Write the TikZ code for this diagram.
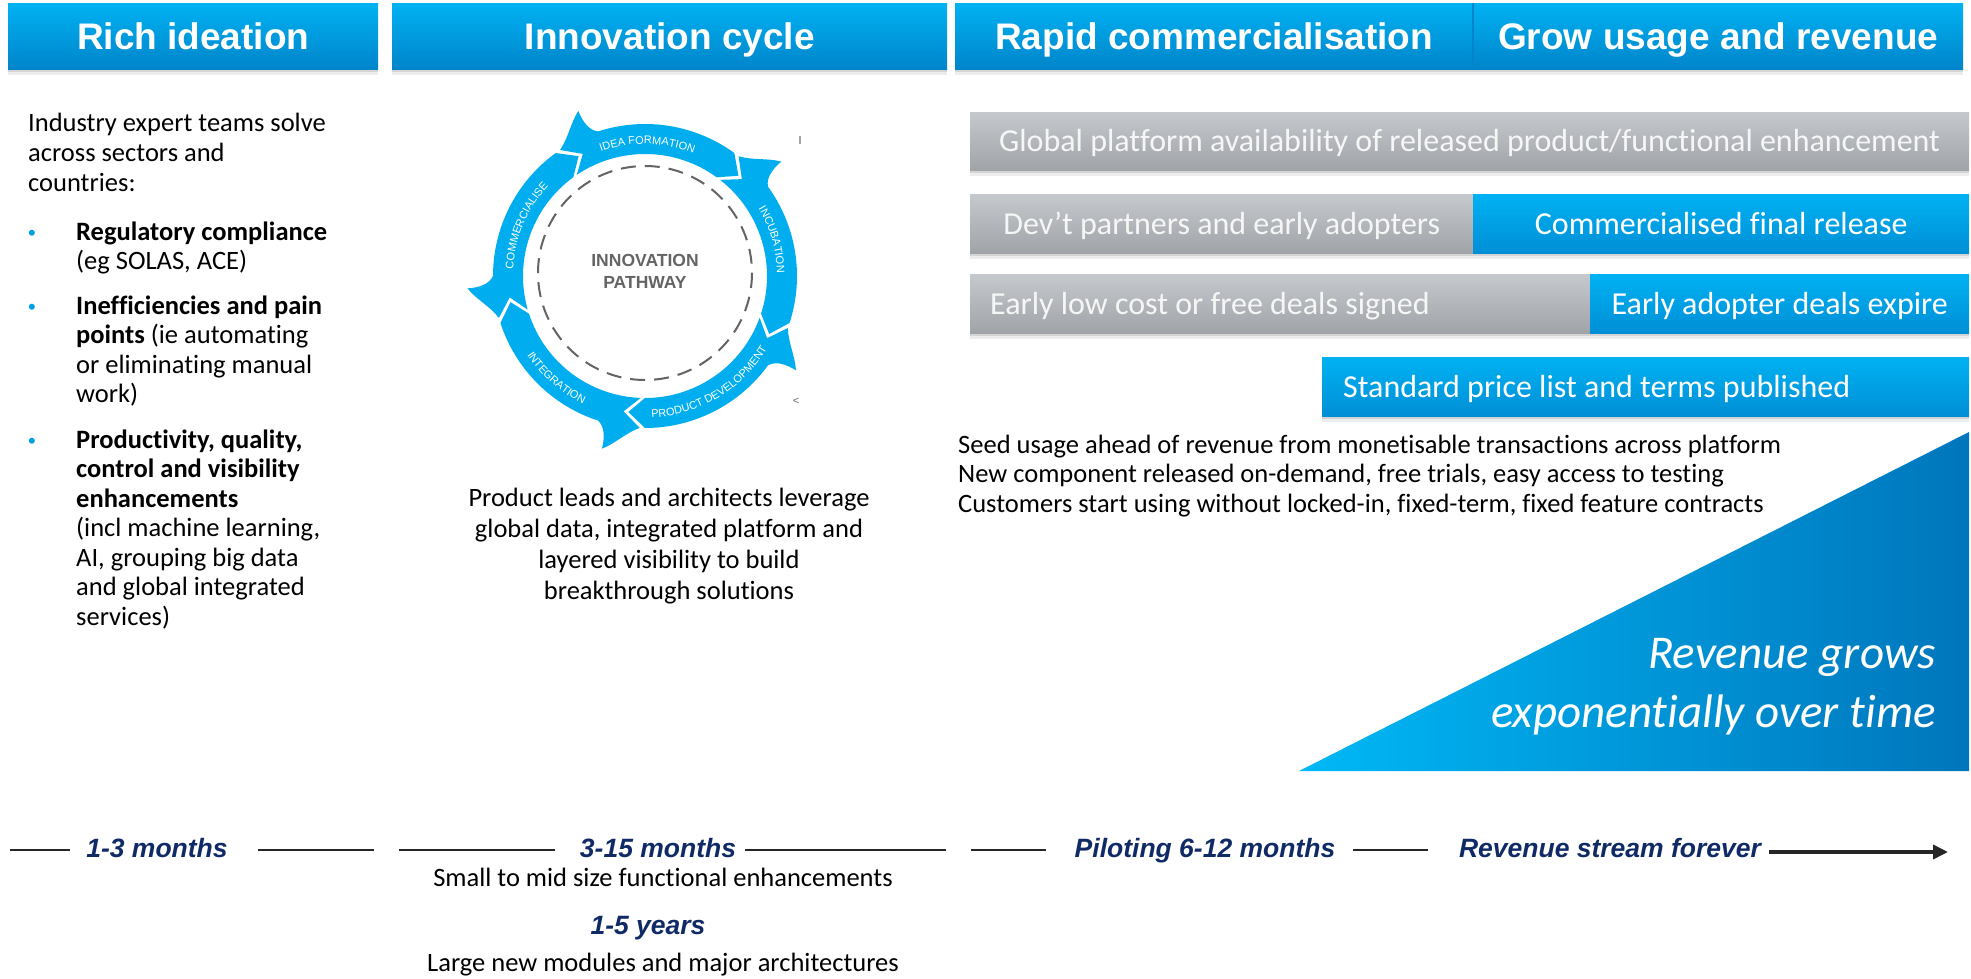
\documentclass[tikz,border=0pt]{standalone}
\usepackage{fontspec}
\setmainfont{Carlito}[Ligatures=NoCommon]
\newfontfamily\sansfam{Liberation Sans}
\usetikzlibrary{arrows.meta,decorations.text,shadows}

\definecolor{hdrtop}{RGB}{0,178,242}
\definecolor{hdrbot}{RGB}{0,132,202}
\definecolor{graytop}{RGB}{197,201,205}
\definecolor{graybot}{RGB}{160,164,168}
\definecolor{graytext}{RGB}{246,246,246}
\definecolor{bluetop}{RGB}{0,178,242}
\definecolor{bluebot}{RGB}{0,142,214}
\definecolor{ringblue}{RGB}{0,174,239}
\definecolor{navy}{RGB}{16,42,102}
\definecolor{pathgray}{RGB}{100,100,100}
\definecolor{bulletblue}{RGB}{0,160,228}
\definecolor{trileft}{RGB}{0,184,246}
\definecolor{triright}{RGB}{0,118,188}

\newcommand\ringfont{\sansfam\fontsize{11}{12}\selectfont\color{white}}

\begin{document}
\begin{tikzpicture}[x=1pt,y=-1pt,
  softshadow/.style={
    general shadow={shadow yshift=-3pt, fill=black, opacity=0.10},
    general shadow={shadow yshift=-6pt, fill=black, opacity=0.07}},
  hdr/.style={rectangle, anchor=north west, inner sep=0pt, minimum height=66pt,
    top color=hdrtop, bottom color=hdrbot, text=white,
    font=\sansfam\bfseries\fontsize{37}{40}\selectfont,
    text height=26.5pt, text depth=0pt, softshadow},
  bar/.style={rectangle, anchor=north west, inner sep=0pt, minimum height=59pt,
    font=\fontsize{32}{36}\selectfont, text height=20.6pt, text depth=0pt, softshadow},
  graybar/.style={bar, top color=graytop, bottom color=graybot, text=graytext},
  bluebar/.style={bar, top color=bluetop, bottom color=bluebot, text=white},
  body/.style={anchor=base west, inner sep=0pt, font=\fontsize{26.5}{29.5}\selectfont},
  bodyc/.style={body, anchor=base},
  bul/.style={anchor=base, inner sep=0pt, text=bulletblue, font=\sansfam\fontsize{22}{26}\selectfont},
  tl/.style={anchor=base, inner sep=0pt, text=navy,
    font=\sansfam\bfseries\itshape\fontsize{26.5}{30}\selectfont},
  tline/.style={line width=2pt, black!85},
  ringtext/.style={decorate, decoration={text along path, text align=center, text={#1}}},
]
% page and background
\fill[white] (0,0) rectangle (1971,979);
\useasboundingbox (0,0) rectangle (1971,979);

% ---------- column headers ----------
\node[hdr, minimum width=370pt] (h1) at (8,3) {Rich ideation};
\node[hdr, minimum width=555pt] (h2) at (392,3) {Innovation cycle};
\node[hdr, minimum width=518pt] (h3) at (955,3) {Rapid commercialisation};
\node[hdr, minimum width=490pt] (h4) at (1473,3) {Grow usage and revenue};
\draw[hdrbot, line width=1.5pt] (h4.north west) -- (h4.south west);

% ---------- rich ideation column ----------
\foreach \yy/\txt [count=\i] in {132/{Industry expert teams solve},
    161.5/{across sectors and}, 191/{countries:}}
  \node[body] (intro\i) at (28,\yy) {\txt};

\node[bul] (b1) at (32,240) {\textbullet};
\node[body] (reg1) at (76,240) {\textbf{Regulatory compliance}};
\node[body] (reg2) at (76,269.5) {(eg SOLAS, ACE)};

\node[bul] (b2) at (32,314) {\textbullet};
\foreach \yy/\txt [count=\i] in {314/{\textbf{Inefficiencies and pain}},
    343.5/{\textbf{points} (ie automating}, 373/{or eliminating manual},
    402.5/{work)}}
  \node[body] (ineff\i) at (76,\yy) {\txt};

\node[bul] (b3) at (32,448) {\textbullet};
\foreach \yy/\txt [count=\i] in {448/{\textbf{Productivity, quality,}},
    477.5/{\textbf{control and visibility}}, 507/{\textbf{enhancements}},
    536.5/{(incl machine learning,}, 566/{AI, grouping big data},
    595.5/{and global integrated}, 625/{services)}}
  \node[body] (prod\i) at (76,\yy) {\txt};

% ---------- innovation pathway ring ----------
\begin{scope}[shift={(645,276)}]
  % five curved arrow segments, each with a fin at its tail
  \foreach \T in {-124,-52,20,92,164} {
    \fill[ringblue] (\T:152)
      .. controls (\T+5:158) and (\T+8:170) .. (\T+12:178)
      .. controls (\T+12:166) and (\T+13:156) .. (\T+16:152)
      arc[start angle=\T+16, end angle=\T+70, radius=152]
      -- (\T+77:137) -- (\T+70:122)
      arc[start angle=\T+70, end angle=\T, radius=122]
      -- (\T+7:137) -- cycle;
  }
  \path[ringtext={|\ringfont|IDEA FORMATION}]
    (-129:132) arc[start angle=-129, end angle=-49, radius=132];
  \path[ringtext={|\ringfont|INCUBATION}]
    (-46:132) arc[start angle=-46, end angle=14, radius=132];
  \path[ringtext={|\ringfont|PRODUCT DEVELOPMENT}]
    (99:142) arc[start angle=99, end angle=19, radius=142];
  \path[ringtext={|\ringfont|INTEGRATION}]
    (161:142) arc[start angle=161, end angle=101, radius=142];
  \path[ringtext={|\ringfont|COMMERCIALISE}]
    (173:132) arc[start angle=173, end angle=233, radius=132];
\end{scope}
\draw[pathgray, line width=2pt, dash pattern=on 15pt off 9pt] (645,273) circle[radius=107];
\node[font=\sansfam\bfseries\fontsize{17.5}{22}\selectfont, text=pathgray, align=center]
  (pathway) at (645,271) {INNOVATION\\PATHWAY};
\node[font=\sansfam\fontsize{11}{12}\selectfont, text=pathgray, inner sep=0pt] (mark) at (796,401) {<};
\draw[pathgray!60, line width=1.5pt] (800,136) -- (800,144);

\foreach \yy/\txt [count=\i] in {506/{Product leads and architects leverage},
    537/{global data, integrated platform and}, 568/{layered visibility to build},
    599/{breakthrough solutions}}
  \node[bodyc] (lead\i) at (669,\yy) {\txt};

% ---------- commercialisation bars ----------
\node[graybar, minimum width=999pt, minimum height=58pt] (glob) at (970,112)
  {Global platform availability of released product/functional enhancement};
\node[graybar, minimum width=503pt] (dev) at (970,194) {Dev’t partners and early adopters};
\node[bluebar, minimum width=496pt] (comm) at (1473,194) {Commercialised final release};
\node[graybar, minimum width=620pt, inner xsep=20pt, text width=580pt, align=flush left]
  (early) at (970,274) {Early low cost or free deals signed};
\node[bluebar, minimum width=379pt] (expire) at (1590,274) {Early adopter deals expire};
\node[bluebar, minimum width=647pt, inner xsep=21pt, text width=605pt, align=flush left]
  (std) at (1322,357) {Standard price list and terms published};

\foreach \yy/\txt [count=\i] in {453/{Seed usage ahead of revenue from monetisable transactions across platform},
    482.5/{New component released on-demand, free trials, easy access to testing},
    512/{Customers start using without locked-in, fixed-term, fixed feature contracts}}
  \node[body] (seed\i) at (958,\yy) {\txt};

% ---------- revenue wedge ----------
\shade[left color=trileft, right color=triright] (1299,771) -- (1969,432) -- (1969,771) -- cycle;
\node[anchor=base east, inner sep=0pt, text=white, font=\itshape\fontsize{47}{59}\selectfont]
  (rev1) at (1936,668) {Revenue grows};
\node[anchor=base east, inner sep=0pt, text=white, font=\itshape\fontsize{47}{59}\selectfont]
  (rev2) at (1936,727) {exponentially over time};

% ---------- timeline ----------
\node[tl] (t1) at (157,857) {1-3 months};
\node[tl] (t2) at (658,857) {3-15 months};
\node[tl] (t3) at (1205,857) {Piloting 6-12 months};
\node[tl] (t4) at (1610,857) {Revenue stream forever};
\node[bodyc] (s1) at (663,886) {Small to mid size functional enhancements};
\node[tl] (t5) at (648,934) {1-5 years};
\node[bodyc] (s2) at (663,971) {Large new modules and major architectures};

\coordinate (a1) at (10,850);   \coordinate (a2) at (70,850);
\coordinate (b1) at (258,850);  \coordinate (b2) at (374,850);
\coordinate (c1) at (399,850);  \coordinate (c2) at (555,850);
\coordinate (d1) at (745,850);  \coordinate (d2) at (946,850);
\coordinate (e1) at (971,850);  \coordinate (e2) at (1046,850);
\coordinate (f1) at (1353,850); \coordinate (f2) at (1428,850);
\coordinate (tend) at (1948,852);
\draw[tline] (a1) -- (a2);
\draw[tline] (b1) -- (b2);
\draw[tline] (c1) -- (c2);
\draw[tline] (d1) -- (d2);
\draw[tline] (e1) -- (e2);
\draw[tline] (f1) -- (f2);
\draw[tline, line width=3.5pt, -{Triangle[length=15pt, width=14pt]}] ([xshift=8pt]t4.east |- tend) -- (tend);
\end{tikzpicture}
\end{document}
